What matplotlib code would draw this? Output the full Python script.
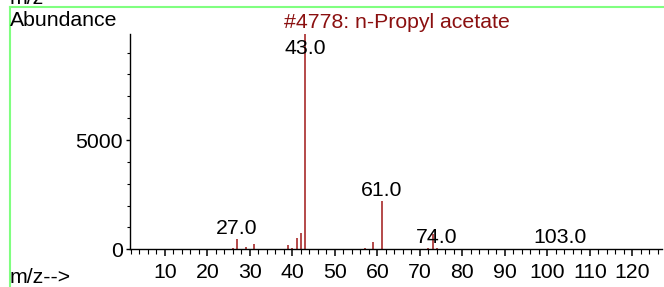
import numpy as np
import matplotlib
matplotlib.use("Agg")
import matplotlib.pyplot as plt
from matplotlib.ticker import MultipleLocator, FixedLocator

plt.rcParams['font.family'] = ['Liberation Sans', 'DejaVu Sans']

# spectrum of n-propyl acetate
mz = [26, 27, 29, 31, 39, 40, 41, 42, 43, 45, 57, 59, 61, 72, 73, 74, 103]
abundance = [70, 470, 100, 230, 180, 50, 500, 740, 9850, 30, 60, 330, 2210, 60, 700, 40, 20]

# labelled peaks
label_mz = [27, 43, 61, 74, 103]
label_text = ["27.0", "43.0", "61.0", "74.0", "103.0"]

title = "#4778: n-Propyl acetate"
W, H = 664, 287
fs = 15.3

fig = plt.figure(figsize=(W / 100, H / 100), dpi=100)
ax = fig.add_axes([130 / W, 1 - 249.3 / H, 532 / W, (249.3 - 34) / H])

ax.vlines(mz, 0, abundance, color='#a01818', lw=1.1)

ax.set_xlim(1.8, 127)
ax.set_ylim(0, 9850)

for s in ['top', 'right']:
    ax.spines[s].set_visible(False)
for s in ['left', 'bottom']:
    ax.spines[s].set_linewidth(1.0)

ax.xaxis.set_major_locator(MultipleLocator(10))
ax.xaxis.set_minor_locator(MultipleLocator(2))
ax.yaxis.set_major_locator(FixedLocator([0, 5000]))
ax.yaxis.set_minor_locator(MultipleLocator(1000))
ax.tick_params(axis='x', which='major', length=5.2, width=1.1, pad=5, labelsize=fs)
ax.tick_params(axis='x', which='minor', length=3.8, width=0.8)
ax.tick_params(axis='y', which='major', length=3, width=1, pad=2.2, labelsize=fs)
ax.tick_params(axis='y', which='minor', length=2.2, width=0.8)
ax.set_xticks([t for t in range(10, 130, 10)])
ax.set_xticklabels([str(t) for t in range(10, 130, 10)])

# peak labels just above peak tops (43 is clamped below the top)
heights = dict(zip(mz, abundance))
for m, t in zip(label_mz, label_text):
    y = min(heights[m], 8700)
    ax.annotate(t, (m, y), xytext=(0, 1), textcoords='offset points',
                ha='center', va='bottom', fontsize=fs, color='black',
                annotation_clip=False)

fig.text(10 / W, 1 - 26 / H, "Abundance", fontsize=fs, va='baseline', ha='left')
fig.text(397 / W, 1 - 28 / H, title, fontsize=fs, va='baseline', ha='center',
         color='#8b1010')
fig.text(10 / W, 1 - 283 / H, "m/z-->", fontsize=fs, va='baseline', ha='left')
fig.text(10 / W, 1 - 4.5 / H, "m/z", fontsize=fs, va='baseline', ha='left')

# green frame
fig.add_artist(plt.Line2D([10 / W, 663 / W], [1 - 6.5 / H, 1 - 6.5 / H],
                          transform=fig.transFigure, color='#80ff80', lw=1.5))
fig.add_artist(plt.Line2D([10 / W, 10 / W], [1 - 6.5 / H, 0],
                          transform=fig.transFigure, color='#80ff80', lw=1.5))

fig.savefig("out.png", dpi=100)
